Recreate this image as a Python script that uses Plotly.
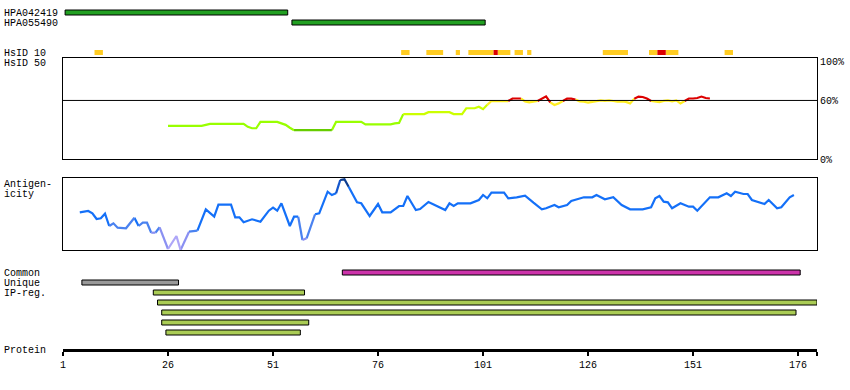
import plotly.graph_objects as go

# ---------------- data ----------------
PROTEIN_END = 180.5
axis_ticks = [1, 26, 51, 76, 101, 126, 151, 176]

hpa_names = ["HPA042419", "HPA055490"]
hpa_start = [1.5, 55.5]
hpa_end = [54.5, 101.5]

hsid10_start = [8.5, 81.5, 87.5, 94.5, 97.5, 103.5, 104.5, 108.5, 111.5, 129.5, 140.5, 142.5, 144.5, 158.5]
hsid10_end = [10.5, 83.5, 91.5, 95.5, 103.5, 104.5, 107.5, 110.5, 112.5, 135.5, 142.5, 144.5, 147.5, 160.5]
hsid10_high = [0, 0, 0, 0, 0, 1, 0, 0, 0, 0, 0, 1, 0, 0]

identity_start = 26
identity_pct = [
    34, 34, 34, 34, 34, 34, 34, 34, 34, 35,
    36, 36, 36, 36, 36, 36, 36, 36, 36,
    33, 31.5, 31.5,
    38, 38, 38, 38, 38,
    36.5, 35, 32,
    29.5, 29.5, 29.5, 29.5, 29.5, 29.5, 29.5, 29.5, 29.5, 29.5,
    38, 38, 38, 38, 38, 38, 38,
    35.5, 35.5, 35.5, 35.5, 35.5, 35.5, 35.5,
    36.5, 37,
    46, 46, 46, 46, 46, 46,
    48, 48, 48, 48, 48, 48,
    46, 46, 46,
    52, 52, 52,
    53.5, 51, 55.5,
    59.4, 59.4, 59.4, 59.4, 59.4,
    62, 62, 62,
    59, 58, 58.5, 59.4,
    61.8, 64.2,
    58, 55.3, 57, 59.4,
    61.8, 61.8, 61,
    59, 58.7, 57.7, 58.5, 59.4, 60, 59.5, 60, 59.4, 58.7, 59, 58.5, 57,
    61.8, 64, 63.5, 62,
    59.4, 59, 58.4, 59.5, 60, 59, 60, 57, 59.4,
    62, 62, 62.5, 64, 62.5, 62,
]

antigen_res = [5, 7, 8, 9, 10, 11, 12, 13, 14, 16, 18, 19, 20, 21, 22, 23, 24, 26, 28, 29,
               31, 33, 35, 37, 38, 41, 42, 43, 44, 46, 48, 50, 51, 52, 53, 55, 56, 57, 58, 59,
               61, 62, 64, 65, 66, 67, 68, 69, 71, 72, 74, 76, 77, 79, 81, 82, 83, 85, 86, 88,
               90, 92, 93, 94, 95, 98, 100, 101, 102, 103, 106, 107, 109, 111, 113, 115, 116, 118, 119, 121,
               122, 125, 127, 128, 130, 132, 134, 136, 139, 141, 142, 143, 144, 145, 146, 148, 150, 151, 152, 155,
               157, 159, 160, 161, 163, 164, 165, 167, 168, 169, 171, 172, 174, 175]
antigen_val = [37.7, 39, 36.7, 31, 31.7, 36.3, 24, 26.7, 22.3, 21.7, 32.3, 24, 27.3, 27.3, 17.3, 17.3, 22.7, 1, 14, 0,
               18.3, 19.3, 40.7, 33.3, 45.3, 45.3, 32.7, 32.7, 27.7, 30.7, 28.3, 39.3, 42.3, 39.3, 46.7, 24, 33.3, 33.3, 10, 11.7,
               35.7, 36.7, 58.3, 55, 56.7, 70, 70.7, 63.3, 47.7, 46.7, 34, 46, 37.7, 37.7, 44, 44, 54, 40, 41, 48,
               44.3, 40, 46.7, 44, 46.7, 46.7, 50, 55, 51.7, 57.3, 57.3, 51.7, 52.7, 54.3, 47.3, 40.7, 41.7, 45, 42.7, 45,
               49, 52.7, 52.7, 55, 50.7, 52.7, 45, 40.7, 40.7, 42.7, 51.7, 54, 48.3, 47.7, 41.7, 46.7, 43.3, 43.3, 39.3, 52.7,
               52.7, 56.7, 54, 58.3, 56, 56, 50, 47.7, 46, 50, 41.7, 42.7, 52.7, 55]

common_start, common_end = [67.5], [176.5]
unique_start, unique_end = [5.5], [28.5]
ipreg_start = [22.5, 23.5, 24.5, 24.5, 25.5]
ipreg_end = [58.5, 180.5, 175.5, 59.5, 57.5]

# ---------------- layout constants (pixel geometry) ----------------
W, H = 850, 390
X0_PX, X1_PX = 63, 817
FONT = "Liberation Mono"


def pdom(top_px, bottom_px):
    return [(H - bottom_px) / H, (H - top_px) / H]


fig = go.Figure()


def add_bars(starts, ends, ycenter, color, border=True):
    fig.add_trace(go.Bar(
        orientation="h", base=starts, x=[e - s for s, e in zip(starts, ends)],
        y=[ycenter] * len(starts), width=5,
        marker=dict(color=color, line=dict(color="black", width=1 if border else 0)),
        xaxis="x", yaxis="y", hoverinfo="skip", showlegend=False))


# antibody bars
for i in range(len(hpa_names)):
    add_bars([hpa_start[i]], [hpa_end[i]], 12.5 + 10 * i, "#22A022")

# HsID 10 segments
for flag, col in [(0, "#FFCC22"), (1, "#DD0000")]:
    s = [a for a, f in zip(hsid10_start, hsid10_high) if f == flag]
    e = [b for b, f in zip(hsid10_end, hsid10_high) if f == flag]
    add_bars(s, e, 52.5, col, border=False)

# lower bars
add_bars(common_start, common_end, 272.5, "#CC33AA")
add_bars(unique_start, unique_end, 282.5, "#999999")
for i in range(len(ipreg_start)):
    add_bars([ipreg_start[i]], [ipreg_end[i]], 292.5 + 10 * i, "#AACC55")


def segment_traces(xs, ys, colfun, xa, ya, width):
    groups = {}
    for i in range(len(xs) - 1):
        c = colfun((ys[i] + ys[i + 1]) / 2)
        g = groups.setdefault(c, ([], []))
        if g[0] and g[0][-1] == xs[i]:
            g[0].append(xs[i + 1]); g[1].append(ys[i + 1])
        else:
            if g[0]:
                g[0].append(None); g[1].append(None)
            g[0].extend([xs[i], xs[i + 1]]); g[1].extend([ys[i], ys[i + 1]])
    for c, (gx, gy) in groups.items():
        fig.add_trace(go.Scatter(x=gx, y=gy, mode="lines", line=dict(color=c, width=width),
                                 xaxis=xa, yaxis=ya, hoverinfo="skip", showlegend=False,
                                 connectgaps=False))


def identity_color(v):
    if v > 60.5:
        return "#DD0000"
    if v >= 55:
        return "#FFEE22"
    if v >= 45:
        return "#CCFF00"
    if v >= 30:
        return "#99FF00"
    return "#66CC00"


def antigen_color(v):
    if v >= 65:
        return "#0C3C8E"
    if v >= 58:
        return "#1456CC"
    if v >= 28:
        return "#1470F8"
    if v >= 18:
        return "#4A82F0"
    if v >= 9:
        return "#8A90F2"
    return "#AEA6F8"


identity_res = list(range(identity_start, identity_start + len(identity_pct)))
segment_traces(identity_res, identity_pct, identity_color, "x2", "y2", 2.2)
segment_traces(antigen_res, antigen_val, antigen_color, "x3", "y3", 2.2)

xdom = [X0_PX / W, X1_PX / W]
box_x = dict(matches="x", domain=xdom, showline=True, mirror=True, linecolor="black", linewidth=1,
             showticklabels=False, ticks="", showgrid=False, zeroline=False, automargin=False)
fig.update_layout(
    width=W, height=H, margin=dict(l=0, r=0, t=0, b=0, pad=0, autoexpand=False),
    paper_bgcolor="white", plot_bgcolor="white", barmode="overlay", showlegend=False,
    font=dict(family=FONT, size=10, color="black"),
    xaxis=dict(domain=xdom, range=[1, PROTEIN_END], anchor="free", position=(H - 349.5) / H,
               showline=True, linewidth=3, linecolor="black", ticks="outside", ticklen=4,
               tickwidth=2, tickcolor="black", tickvals=axis_ticks + [PROTEIN_END],
               ticktext=[str(t) for t in axis_ticks] + [""], showgrid=False, zeroline=False,
               automargin=False, tickfont=dict(family=FONT, size=10)),
    yaxis=dict(domain=[0, 1], range=[H, 0], visible=False, anchor="x", automargin=False),
    xaxis2=dict(anchor="y2", **box_x),
    yaxis2=dict(domain=pdom(58, 159), range=[0, 103.5], anchor="x2", side="right",
                showline=True, mirror=True, linecolor="black", linewidth=1,
                tickvals=[0, 60, 100], ticktext=["0%", "60%", "100%"], ticks="",
                showgrid=False, zeroline=False, automargin=False,
                tickfont=dict(family=FONT, size=10)),
    xaxis3=dict(anchor="y3", **box_x),
    yaxis3=dict(domain=pdom(178, 250), range=[0, 72], anchor="x3", showline=True, mirror=True,
                linecolor="black", linewidth=1, showticklabels=False, ticks="",
                showgrid=False, zeroline=False, automargin=False),
)

fig.add_shape(type="line", xref="x2 domain", x0=0, x1=1, yref="y2", y0=60, y1=60,
              line=dict(color="black", width=1))

labels = [("HPA042419", 13.3), ("HPA055490", 23.3), ("HsID 10", 53.3), ("HsID 50", 63.3),
          ("Antigen-", 184), ("icity", 194), ("Common", 273.3), ("Unique", 283.3),
          ("IP-reg.", 293.3), ("Protein", 350.3)]
for txt, yy in labels:
    fig.add_annotation(text=txt, xref="paper", x=3 / W, xanchor="left", yref="y", y=yy,
                       yanchor="middle", showarrow=False, borderpad=0,
                       font=dict(family=FONT, size=10))

page_fix = (
    "var s=document.createElement('style');"
    "s.textContent='html,body{margin:0;padding:0;overflow:hidden;}';"
    "document.head.appendChild(s);"
)
fig.write_html("out.html", config={"displayModeBar": False, "staticPlot": True},
               post_script=page_fix)
